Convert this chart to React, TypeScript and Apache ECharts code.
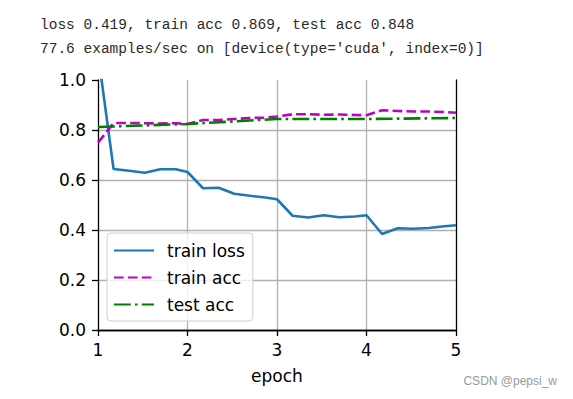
import React, { useEffect, useRef } from "react";
import * as echarts from "echarts";

const trainX = [1.0, 1.174, 1.348, 1.522, 1.696, 1.87, 2.0, 2.174, 2.348, 2.522, 2.696, 2.87, 3.0, 3.174, 3.348, 3.522, 3.696, 3.87, 4.0, 4.174, 4.348, 4.522, 4.696, 4.87, 5.0];
const trainLoss = [1.106, 0.644, 0.637, 0.629, 0.643, 0.643, 0.632, 0.567, 0.569, 0.545, 0.537, 0.53, 0.523, 0.457, 0.45, 0.459, 0.451, 0.454, 0.459, 0.384, 0.407, 0.405, 0.408, 0.415, 0.419];
const trainAcc = [0.749, 0.828, 0.828, 0.827, 0.826, 0.827, 0.824, 0.84, 0.84, 0.844, 0.848, 0.849, 0.854, 0.863, 0.863, 0.861, 0.862, 0.86, 0.859, 0.879, 0.876, 0.874, 0.874, 0.872, 0.869];
const testX = [1, 2, 3, 4, 5];
const testAcc = [0.812, 0.824, 0.844, 0.844, 0.848];
const seriesNames = ["train loss", "train acc", "test acc"];
const titleLines = [
  "loss 0.419, train acc 0.869, test acc 0.848",
  "77.6 examples/sec on [device(type='cuda', index=0)]",
];
const xLabel = "epoch";
const watermark = "CSDN @pepsi_w";

export default function App() {
  const ref = useRef<HTMLDivElement>(null);
  useEffect(() => {
    if (!ref.current) return;
    const chart = echarts.init(ref.current, null, { renderer: "svg" });
    const zip = (xs: number[], ys: number[]) => xs.map((x, i) => [x, ys[i]]);
    const tickFont = { fontFamily: "DejaVu Sans", fontSize: 17, color: "#000" };
    const spine = { show: true, lineStyle: { color: "#000", width: 1.3 } };
    const grid = { lineStyle: { color: "#b0b0b0", width: 1.3 } };
    chart.setOption({
      animation: false,
      backgroundColor: "#fff",
      title: {
        text: titleLines.join("\n"),
        left: 40,
        top: 13,
        padding: 0,
        textStyle: { fontFamily: "Liberation Mono", fontSize: 14.5, fontWeight: "normal", color: "#2a2a2a", lineHeight: 24 },
      },
      grid: { left: 98, right: 117, top: 80, bottom: 69, containLabel: false },
      xAxis: [
        {
          type: "value", min: 1, max: 5, interval: 1, position: "bottom",
          axisLine: spine,
          axisTick: { show: true, length: 6, lineStyle: { color: "#000", width: 1.3 } },
          axisLabel: { ...tickFont, margin: 11, formatter: (v: number) => String(v) },
          splitLine: { show: true, showMinLine: false, showMaxLine: false, ...grid },
          name: xLabel, nameLocation: "middle", nameGap: 37,
          nameTextStyle: { fontFamily: "DejaVu Sans", fontSize: 17, color: "#000" },
        },
        {
          type: "value", min: 1, max: 5, interval: 1, position: "top",
          axisLine: spine, axisTick: { show: false }, axisLabel: { show: false }, splitLine: { show: false },
        },
      ],
      yAxis: [
        {
          type: "value", min: 0, max: 1, interval: 0.2, position: "left",
          axisLine: spine,
          axisTick: { show: true, length: 6, lineStyle: { color: "#000", width: 1.3 } },
          axisLabel: { ...tickFont, margin: 12, formatter: (v: number) => v.toFixed(1) },
          splitLine: { show: true, showMinLine: false, showMaxLine: false, ...grid },
        },
        {
          type: "value", min: 0, max: 1, interval: 0.2, position: "right",
          axisLine: spine, axisTick: { show: false }, axisLabel: { show: false }, splitLine: { show: false },
        },
      ],
      legend: {
        data: seriesNames,
        orient: "vertical",
        left: 107,
        top: 233,
        padding: [9, 8, 8, 6],
        itemGap: 10,
        itemWidth: 40,
        itemHeight: 14,
        selectedMode: false,
        backgroundColor: "rgba(255,255,255,0.8)",
        borderColor: "#d0d0d0",
        borderWidth: 1,
        borderRadius: 4,
        itemStyle: { opacity: 0 },
        textStyle: { fontFamily: "DejaVu Sans", fontSize: 17, color: "#000", padding: [0, 0, 0, 8] },
      },
      series: [
        {
          name: seriesNames[0], type: "line", data: zip(trainX, trainLoss), symbol: "none", clip: true,
          lineStyle: { color: "#1f77b4", width: 2.6 }, itemStyle: { color: "#1f77b4" },
        },
        {
          name: seriesNames[1], type: "line", data: zip(trainX, trainAcc), symbol: "none", clip: true,
          lineStyle: { color: "#bf00bf", width: 2.6, type: [9.7, 4.2] }, itemStyle: { color: "#bf00bf" },
        },
        {
          name: seriesNames[2], type: "line", data: zip(testX, testAcc), symbol: "none", clip: true,
          lineStyle: { color: "#008000", width: 2.6, type: [16.8, 4.2, 2.6, 4.2] }, itemStyle: { color: "#008000" },
        },
      ],
      graphic: [
        {
          type: "text", right: 16, top: 375,
          style: { text: watermark, fontSize: 12, fill: "#999", fontFamily: "Liberation Sans" },
        },
      ],
    });
    return () => chart.dispose();
  }, []);
  return <div ref={ref} style={{ position: "fixed", left: 0, top: 0, width: 573, height: 399 }} />;
}
